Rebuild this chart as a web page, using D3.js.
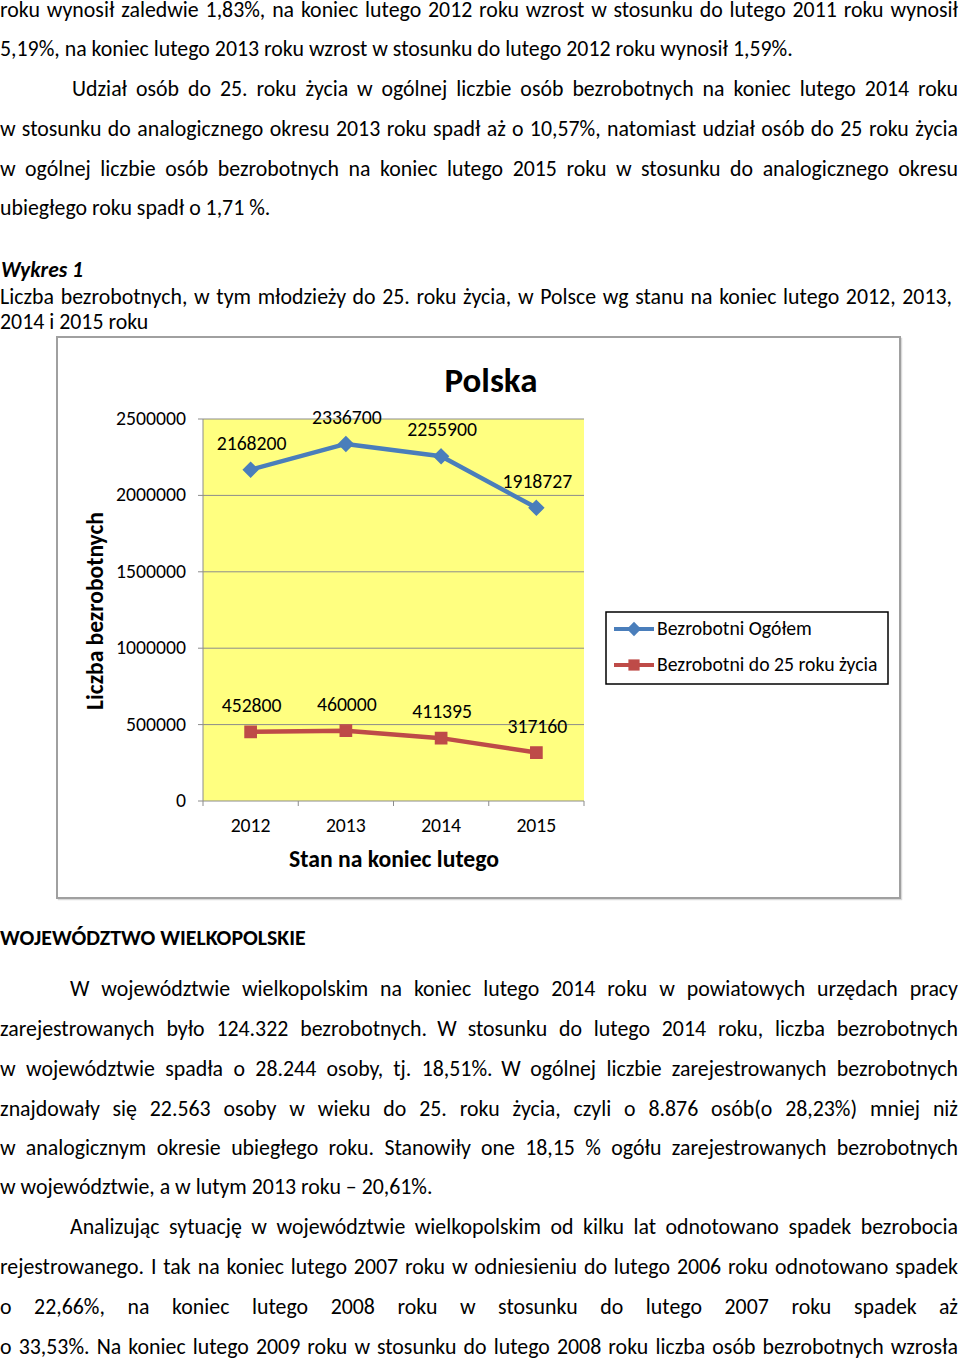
<!DOCTYPE html>
<html>
<head>
<meta charset="utf-8">
<script src="https://cdn.jsdelivr.net/npm/d3@7"></script>
<style>
  html, body { margin: 0; padding: 0; background: #fff; }
  svg { display: block; }
  text { font-family: Carlito, Lato, "Open Sans", sans-serif; fill: #000; }
</style>
</head>
<body>
<svg id="page" width="960" height="1362"></svg>
<script>
// chart data
const years = ["2012", "2013", "2014", "2015"];
const ogolem = [2168200, 2336700, 2255900, 1918727];
const mlodzi = [452800, 460000, 411395, 317160];
const yTicks = [0, 500000, 1000000, 1500000, 2000000, 2500000];
const seriesNames = ["Bezrobotni Ogółem", "Bezrobotni do 25 roku życia"];
const seriesColors = ["#4a7ebb", "#be4b48"];

// text of the page, one entry per line: [text, baseline, x, justify]
const topLines = [
  ["roku wynosił zaledwie 1,83%, na koniec lutego 2012 roku wzrost w stosunku do lutego 2011 roku wynosił", 17, 0, true],
  ["5,19%, na koniec lutego 2013 roku wzrost w stosunku do lutego 2012 roku wynosił 1,59%.", 56, 0, false],
  ["Udział osób do 25. roku życia w ogólnej liczbie osób bezrobotnych na koniec lutego 2014 roku", 96, 72, true],
  ["w stosunku do analogicznego okresu 2013 roku spadł aż o 10,57%, natomiast udział osób do 25 roku życia", 136, 0, true],
  ["w ogólnej liczbie osób bezrobotnych na koniec lutego 2015 roku w stosunku do analogicznego okresu", 176, 0, true],
  ["ubiegłego roku spadł o 1,71 %.", 215, 0, false]
];
const captionLines = [
  ["Liczba bezrobotnych, w tym młodzieży do 25. roku życia, w Polsce wg stanu na koniec lutego 2012, 2013,", 304, 0, true],
  ["2014 i 2015 roku", 329, 0, false]
];
const bottomLines = [
  ["W województwie wielkopolskim na koniec lutego 2014 roku w powiatowych urzędach pracy", 996, 70, true],
  ["zarejestrowanych było 124.322 bezrobotnych. W stosunku do lutego 2014 roku, liczba bezrobotnych", 1036, 0, true],
  ["w województwie spadła o 28.244 osoby, tj. 18,51%. W ogólnej liczbie zarejestrowanych bezrobotnych", 1076, 0, true],
  ["znajdowały się 22.563 osoby w wieku do 25. roku życia, czyli o 8.876 osób(o 28,23%) mniej niż", 1116, 0, true],
  ["w analogicznym okresie ubiegłego roku. Stanowiły one 18,15 % ogółu zarejestrowanych bezrobotnych", 1155, 0, true],
  ["w województwie, a w lutym 2013 roku – 20,61%.", 1194, 0, false],
  ["Analizując sytuację w województwie wielkopolskim od kilku lat odnotowano spadek bezrobocia", 1234, 70, true],
  ["rejestrowanego. I tak na koniec lutego 2007 roku w odniesieniu do lutego 2006 roku odnotowano spadek", 1274, 0, true],
  ["o 22,66%, na koniec lutego 2008 roku w stosunku do lutego 2007 roku spadek aż", 1314, 0, true],
  ["o 33,53%. Na koniec lutego 2009 roku w stosunku do lutego 2008 roku liczba osób bezrobotnych wzrosła", 1354, 0, true]
];

let svg = d3.select("#page");

// font size that makes a string reach a given width
let fitSize = (str, width, weight = "normal", style = "normal") => {
    let t = svg.append("text").attr("font-size", 100).attr("font-weight", weight).attr("font-style", style).text(str);
    let w = t.node().getComputedTextLength();
    t.remove();
    return 100 * width / w;
};

let bodySize = fitSize(topLines[1][0], 793);

let drawLines = (lines, size, right) => {
    for (let [str, base, x0, justify] of lines) {
        let t = svg.append("text").attr("y", base).attr("font-size", size);
        if (!justify) { t.attr("x", x0).text(str); continue; }
        let words = str.split(" ");
        let spans = words.map(w => t.append("tspan").text(w));
        let widths = spans.map(s => s.node().getComputedTextLength());
        let gap = (right - x0 - d3.sum(widths)) / (words.length - 1);
        let x = x0;
        spans.forEach((s, i) => { s.attr("x", x); x += widths[i] + gap; });
    }
};

drawLines(topLines, bodySize, 958);
drawLines(captionLines, bodySize, 952);
drawLines(bottomLines, bodySize, 958);

svg.append("text").attr("x", 1).attr("y", 277)
    .attr("font-size", fitSize("Wykres 1", 82, "bold", "italic"))
    .attr("font-weight", "bold").attr("font-style", "italic").text("Wykres 1");
svg.append("text").attr("x", 0).attr("y", 945)
    .attr("font-size", fitSize("WOJEWÓDZTWO WIELKOPOLSKIE", 306, "bold"))
    .attr("font-weight", "bold").text("WOJEWÓDZTWO WIELKOPOLSKIE");

// chart frame, with a light shadow line
svg.append("rect").attr("x", 58.5).attr("y", 338.5).attr("width", 843).attr("height", 561)
    .attr("fill", "none").attr("stroke", "#d9d9d9").attr("stroke-width", 1.5);
svg.append("rect").attr("x", 57).attr("y", 337).attr("width", 843).attr("height", 561)
    .attr("fill", "#fff").attr("stroke", "#a0a0a0").attr("stroke-width", 2);

let x = d3.scaleBand().domain(years).range([203, 584]);
let y = d3.scaleLinear().domain([0, 2500000]).range([801, 419]);
let cx = d => x(d) + x.bandwidth() / 2;

svg.append("rect").attr("x", 203).attr("y", y(2500000)).attr("width", 381).attr("height", y(0) - y(2500000))
    .attr("fill", "#ffff80");

let numSize = fitSize("2500000", 70);

// gridlines and y axis
svg.append("g").selectAll("line").data(yTicks).join("line")
    .attr("x1", 198).attr("x2", 584).attr("y1", d => y(d)).attr("y2", d => y(d))
    .attr("stroke", "#8c8c8c").attr("stroke-width", 1);
svg.append("line").attr("x1", 203).attr("x2", 203).attr("y1", y(2500000)).attr("y2", y(0))
    .attr("stroke", "#8c8c8c");
svg.append("g").selectAll("text").data(yTicks).join("text")
    .attr("x", 186).attr("y", d => y(d) + 6).attr("text-anchor", "end")
    .attr("font-size", numSize).text(d => d);

// x axis, ticks at category borders
svg.append("g").selectAll("line").data(years.map(d => x(d)).concat([584])).join("line")
    .attr("x1", d => d).attr("x2", d => d).attr("y1", y(0)).attr("y2", y(0) + 5)
    .attr("stroke", "#8c8c8c");
svg.append("g").selectAll("text").data(years).join("text")
    .attr("x", cx).attr("y", 832).attr("text-anchor", "middle")
    .attr("font-size", numSize).text(d => d);

// titles
svg.append("text").attr("x", 491).attr("y", 392).attr("text-anchor", "middle")
    .attr("font-weight", "bold").attr("font-size", fitSize("Polska", 93, "bold")).text("Polska");
svg.append("text").attr("x", 394).attr("y", 867).attr("text-anchor", "middle")
    .attr("font-weight", "bold").attr("font-size", fitSize("Stan na koniec lutego", 210, "bold")).text("Stan na koniec lutego");
svg.append("text").attr("transform", "translate(103,611) rotate(-90)").attr("text-anchor", "middle")
    .attr("font-weight", "bold").attr("font-size", fitSize("Liczba bezrobotnych", 198, "bold")).text("Liczba bezrobotnych");

// series
let line = d3.line().x(d => cx(d.year)).y(d => y(d.value));
let series = [ogolem, mlodzi].map(vals => years.map((yr, i) => ({year: yr, value: vals[i]})));
let diamond = d3.symbol().type(d3.symbolDiamond2).size(130);
let square = d3.symbol().type(d3.symbolSquare2).size(160);

series.forEach((data, si) => {
    svg.append("path").attr("d", line(data)).attr("fill", "none")
        .attr("stroke", seriesColors[si]).attr("stroke-width", 4.5).attr("stroke-linejoin", "round");
    svg.append("g").selectAll("path").data(data).join("path")
        .attr("transform", d => "translate(" + cx(d.year) + "," + y(d.value) + ")")
        .attr("d", si == 0 ? diamond() : square())
        .attr("fill", seriesColors[si]).attr("stroke", seriesColors[si]).attr("stroke-width", 1.5);
    svg.append("g").selectAll("text").data(data).join("text")
        .attr("x", d => cx(d.year) + 1).attr("y", d => y(d.value) - 20)
        .attr("text-anchor", "middle").attr("font-size", numSize).text(d => d.value);
});

// legend
let legSize = fitSize(seriesNames[0], 155);
svg.append("rect").attr("x", 606).attr("y", 612).attr("width", 282).attr("height", 72)
    .attr("fill", "#fff").attr("stroke", "#000").attr("stroke-width", 1.5);
seriesNames.forEach((name, i) => {
    let ly = 629 + i * 36;
    svg.append("line").attr("x1", 614).attr("x2", 654).attr("y1", ly).attr("y2", ly)
        .attr("stroke", seriesColors[i]).attr("stroke-width", 4);
    svg.append("path").attr("transform", "translate(634," + ly + ")")
        .attr("d", i == 0 ? diamond() : square()).attr("fill", seriesColors[i]);
    svg.append("text").attr("x", 657).attr("y", ly + 6).attr("font-size", legSize).text(name);
});
</script>
</body>
</html>
